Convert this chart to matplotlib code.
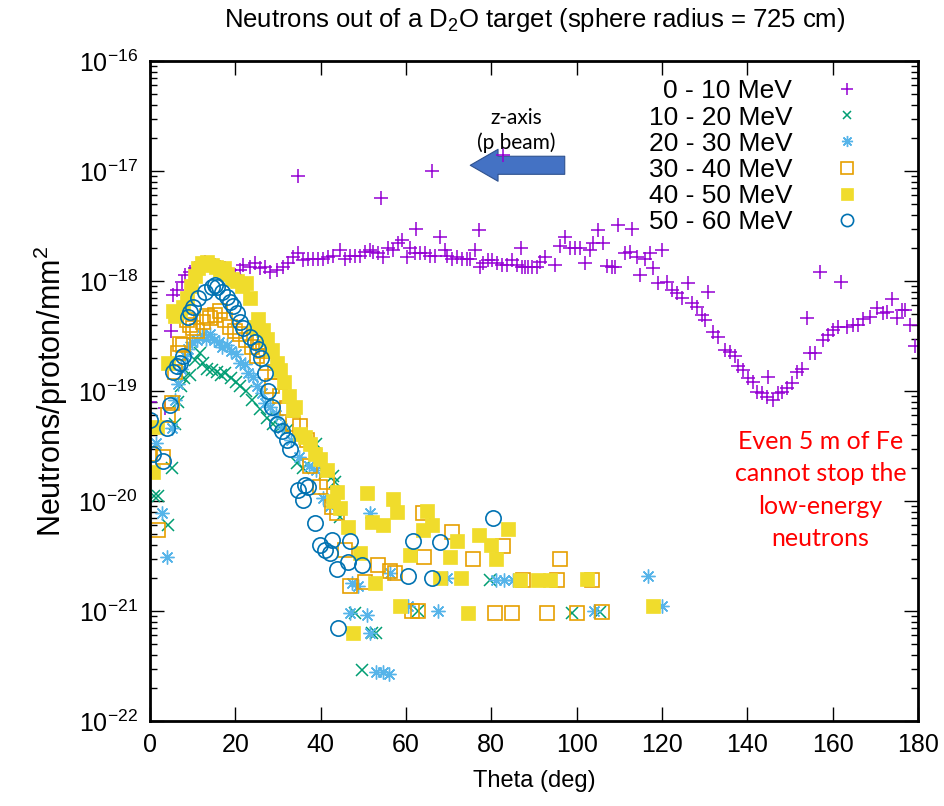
import matplotlib
matplotlib.use("Agg")
import matplotlib.pyplot as plt
from matplotlib.patches import FancyArrowPatch
from matplotlib.ticker import FixedLocator, NullFormatter
import numpy as np

plt.rcParams['font.family'] = ['Liberation Sans', 'DejaVu Sans']
plt.rcParams['mathtext.fontset'] = 'custom'
plt.rcParams['mathtext.rm'] = 'Liberation Sans'
plt.rcParams['mathtext.it'] = 'Liberation Sans:italic'

# ---- data (theta in deg, neutrons/proton/mm^2) ----
th_0_10 = [0.0, 3.5, 5.0, 5.4, 6.3, 7.5, 8.2, 9.4, 10.5, 11.7, 12.9, 14.0, 15.2, 16.4, 17.6, 18.8,
           19.9, 21.1, 21.8, 23.4, 24.6, 25.8, 27.0, 28.1, 29.8, 31.2, 32.3, 33.5, 34.7, 34.7, 35.9,
           37.0, 38.2, 39.4, 40.5, 41.7, 42.9, 44.5, 45.7, 46.9, 48.0, 49.2, 50.4, 51.6, 52.3, 53.4,
           54.1, 54.6, 55.8, 57.0, 58.1, 59.1, 60.2, 60.9, 62.1, 62.3, 63.3, 64.4, 65.6, 66.1, 66.8,
           68.0, 69.1, 69.6, 70.8, 71.9, 73.1, 74.3, 75.0, 76.2, 77.0, 77.3, 78.0, 79.2, 80.1, 81.3,
           82.5, 82.7, 83.7, 84.8, 86.0, 87.0, 87.2, 87.9, 88.6, 89.5, 90.7, 91.4, 92.6, 94.9, 96.1,
           97.3, 98.4, 99.6, 100.8, 101.9, 103.1, 103.8, 105.0, 106.2, 107.1, 108.3, 109.0, 109.7,
           111.3, 112.5, 113.0, 114.1, 114.8, 116.0, 117.2, 117.9, 119.1, 120.0, 121.2, 122.3, 123.5,
           124.7, 126.1, 127.0, 128.2, 129.4, 130.1, 130.8, 131.9, 133.1, 134.8, 135.9, 137.1, 137.8,
           139.0, 140.1, 141.3, 142.3, 143.4, 144.6, 144.8, 146.0, 147.2, 148.1, 149.3, 150.5, 151.6,
           152.8, 154.0, 154.7, 155.8, 157.0, 157.7, 158.9, 160.1, 161.2, 161.9, 163.3, 164.8, 165.9,
           167.1, 168.7, 170.4, 171.8, 172.7, 173.9, 175.1, 176.2, 176.9, 178.1, 179.3]
n_0_10 = [8e-20, 7e-20, 3.5e-19, 7.5e-19, 8.3e-19, 9.8e-19, 1.13e-18, 1.2e-18, 1.3e-18, 1.4e-18,
          1.5e-18, 1.45e-18, 1.4e-18, 1.35e-18, 1.3e-18, 1.25e-18, 1.13e-18, 1.25e-18, 1.4e-18,
          1.34e-18, 1.45e-18, 1.3e-18, 1.34e-18, 1.2e-18, 1.26e-18, 1.34e-18, 1.45e-18, 1.65e-18,
          1.8e-18, 9e-18, 1.55e-18, 1.6e-18, 1.6e-18, 1.6e-18, 1.6e-18, 1.65e-18, 1.7e-18, 1.9e-18,
          1.6e-18, 1.7e-18, 1.7e-18, 1.7e-18, 1.85e-18, 1.9e-18, 1.85e-18, 1.8e-18, 5.7e-18, 1.65e-18,
          2.0e-18, 1.9e-18, 2.2e-18, 2.35e-18, 1.65e-18, 2.0e-18, 1.8e-18, 3.0e-18, 1.8e-18, 1.8e-18,
          1.7e-18, 1.0e-17, 1.7e-18, 2.5e-18, 1.9e-18, 1.7e-18, 1.6e-18, 1.65e-18, 1.6e-18, 1.6e-18,
          1.6e-18, 1.9e-18, 2.9e-18, 1.35e-18, 1.45e-18, 1.55e-18, 1.55e-18, 1.45e-18, 1.4e-18,
          1.4e-17, 1.4e-18, 1.55e-18, 1.4e-18, 2.0e-18, 1.35e-18, 1.35e-18, 1.35e-18, 1.33e-18,
          1.33e-18, 1.5e-18, 1.65e-18, 1.4e-18, 2.1e-18, 2.5e-18, 2.0e-18, 2.0e-18, 2.0e-18, 1.45e-18,
          1.9e-18, 2.2e-18, 2.9e-18, 2.2e-18, 1.37e-18, 1.34e-18, 1.34e-18, 3.2e-18, 1.8e-18,
          1.83e-18, 3.0e-18, 1.65e-18, 1.13e-18, 1.6e-18, 1.8e-18, 1.3e-18, 9.6e-19, 1.9e-18,
          9.8e-19, 8.3e-19, 7.8e-19, 7.0e-19, 9.6e-19, 6.3e-19, 5.8e-19, 4.9e-19, 4.4e-19, 7.9e-19,
          3.44e-19, 3.1e-19, 2.36e-19, 2.25e-19, 2.1e-19, 1.7e-19, 1.55e-19, 1.3e-19, 1.2e-19,
          9.8e-20, 9.6e-20, 8.8e-20, 1.34e-19, 8.3e-20, 9.6e-20, 9.8e-20, 1.06e-19, 1.17e-19,
          1.49e-19, 1.6e-19, 4.6e-19, 2.2e-19, 2.2e-19, 1.2e-18, 2.9e-19, 3.2e-19, 3.6e-19, 3.8e-19,
          9.8e-19, 3.8e-19, 3.96e-19, 3.96e-19, 4.5e-19, 4.7e-19, 5.7e-19, 5.1e-19, 5.2e-19, 6.9e-19,
          4.6e-19, 5.4e-19, 5.4e-19, 3.96e-19, 2.55e-19]

th_10_20 = [1.0, 1.9, 4.2, 5.2, 5.9, 6.5, 7.2, 8.0, 9.4, 10.5, 11.7, 12.4, 13.4, 14.5, 15.7, 16.6,
            17.6, 19.0, 20.2, 21.0, 22.5, 24.0, 25.7, 27.4, 28.8, 30.5, 32.0, 34.4, 35.9, 39.0, 41.0,
            42.9, 43.4, 44.5, 48.0, 49.7, 52.0, 53.0, 62.8, 79.7, 98.9, 105.5]
n_10_20 = [1.1e-20, 1.1e-20, 6e-21, 2e-20, 5e-20, 8e-20, 1.1e-19, 1.3e-19, 1.4e-19, 1.9e-19,
           2.2e-19, 1.8e-19, 1.6e-19, 1.55e-19, 1.5e-19, 1.4e-19, 1.46e-19, 1.3e-19, 1.2e-19,
           1.1e-19, 1.0e-19, 8.3e-20, 6.8e-20, 5.7e-20, 5.0e-20, 4.7e-20, 4.4e-20, 2.2e-20, 2.0e-20,
           3.3e-20, 1.8e-20, 1.7e-20, 1.5e-20, 7.1e-21, 9.6e-22, 2.9e-22, 6.3e-22, 6.3e-22, 1.0e-21,
           1.9e-21, 9.6e-22, 9.8e-22]

th_20_30 = [1.5, 2.8, 4.0, 5.2, 5.9, 6.5, 7.2, 8.1, 9.0, 9.8, 11.0, 12.1, 13.2, 14.0, 15.1, 16.2,
            16.9, 18.1, 19.0, 20.2, 21.1, 22.3, 23.0, 24.2, 25.1, 26.3, 27.0, 28.2, 29.5, 31.0,
            33.1, 35.0, 37.2, 39.0, 40.5, 42.1, 46.9, 47.3, 48.7, 50.9, 51.6, 51.6, 53.0, 54.5,
            56.0, 56.2, 60.5, 67.5, 69.6, 81.0, 83.0, 85.0, 104.0, 116.7, 120.0]
n_20_30 = [3.4e-20, 7.8e-21, 3.1e-21, 4.6e-20, 8.2e-20, 1.15e-19, 1.6e-19, 2.1e-19, 2.4e-19,
           2.8e-19, 2.9e-19, 3.2e-19, 3.0e-19, 3.3e-19, 2.9e-19, 2.8e-19, 2.5e-19, 2.6e-19, 2.3e-19,
           2.15e-19, 1.8e-19, 1.75e-19, 1.45e-19, 1.35e-19, 1.1e-19, 9.5e-20, 7.8e-20, 7.2e-20,
           6.0e-20, 4.6e-20, 3.6e-20, 2.5e-20, 2.1e-20, 1.9e-20, 1.07e-20, 9e-21, 9.6e-22, 1.8e-21,
           1.7e-21, 9.2e-22, 7.8e-21, 6.3e-22, 2.8e-22, 2.8e-22, 2.7e-22, 2.2e-21, 1.1e-21, 1e-21,
           2e-21, 1.9e-21, 1.9e-21, 1.9e-21, 1e-21, 2.1e-21, 1.1e-21]

th_30_40 = [0.0, 1.9, 3.0, 4.2, 5.2, 5.9, 6.5, 7.0, 7.7, 8.7, 9.4, 10.0, 11.0, 12.4, 13.4, 14.0,
            15.2, 16.4, 17.6, 18.8, 20.0, 21.0, 22.5, 24.0, 25.0, 25.3, 26.4, 27.4, 28.6, 29.3,
            30.5, 32.0, 33.5, 35.2, 36.8, 37.5, 39.8, 41.5, 42.7, 43.8, 45.7, 46.9, 50.4, 53.4,
            56.2, 57.5, 61.4, 62.8, 64.0, 64.2, 70.8, 75.7, 80.9, 82.8, 84.8, 87.5, 93.0, 95.4,
            96.0, 100.0, 103.5, 106.0]
n_30_40 = [2.7e-20, 5.4e-21, 2.5e-20, 6e-20, 7.8e-20, 1.5e-19, 2.2e-19, 2.7e-19, 2.6e-19, 4.4e-19,
           4.0e-19, 3.7e-19, 3.5e-19, 4.2e-19, 4.8e-19, 4.6e-19, 4.9e-19, 5.3e-19, 4.4e-19, 3.8e-19,
           3.5e-19, 3.3e-19, 2.9e-19, 2.5e-19, 2.1e-19, 2.8e-19, 2.3e-19, 1.8e-19, 1.1e-19, 1.5e-19,
           9e-20, 7e-20, 5e-20, 4.8e-20, 3.6e-20, 2.1e-20, 1.35e-20, 1.5e-20, 8.8e-21, 7.8e-21,
           3.6e-21, 1.7e-21, 1.85e-21, 2.6e-21, 2.3e-21, 2.2e-21, 1.0e-21, 1.0e-21, 7.8e-21, 3.1e-21,
           5.2e-21, 3e-21, 9.6e-22, 3.9e-21, 9.6e-22, 1.9e-21, 9.6e-22, 1.9e-21, 3e-21, 9.6e-22,
           1.9e-21, 9.8e-22]

th_40_50 = [0.7, 1.6, 4.2, 5.4, 5.9, 7.0, 7.7, 8.7, 9.6, 10.5, 11.3, 12.2, 13.4, 14.5, 15.5, 16.4,
            17.3, 18.0, 19.2, 20.4, 21.5, 22.4, 23.4, 24.6, 25.4, 26.5, 27.5, 28.6, 29.8, 30.5,
            31.5, 32.5, 33.5, 34.0, 35.2, 36.3, 37.5, 38.7, 39.8, 41.5, 42.9, 43.8, 44.5, 46.4,
            47.6, 49.2, 50.9, 52.0, 52.7, 54.6, 57.0, 57.9, 58.6, 61.0, 64.0, 65.0, 66.0, 68.0,
            70.3, 72.0, 73.0, 74.5, 77.0, 80.0, 81.0, 84.0, 86.7, 91.0, 93.7, 102.4, 117.9]
n_40_50 = [1.84e-20, 4.7e-20, 1.8e-19, 5.3e-19, 4.8e-19, 5.2e-19, 5.8e-19, 7e-19, 9e-19, 1.1e-18,
           1.3e-18, 1.45e-18, 1.5e-18, 1.4e-18, 1.35e-18, 1.25e-18, 1.3e-18, 1.15e-18, 1.05e-18,
           1.0e-18, 9e-19, 9.6e-19, 7e-19, 3.8e-19, 4.5e-19, 3.6e-19, 3e-19, 2.36e-19, 1.8e-19,
           1.55e-19, 1.2e-19, 9e-20, 6.7e-20, 7.2e-20, 4.1e-20, 3.8e-20, 3.3e-20, 2.7e-20, 2.4e-20,
           1.9e-20, 1.0e-20, 1.2e-20, 8.6e-21, 5.8e-21, 6.3e-22, 3.4e-21, 1.18e-20, 6.4e-21, 1.8e-21,
           6e-21, 1.04e-20, 7.9e-21, 1.1e-21, 3.2e-21, 5.4e-21, 8.1e-21, 6e-21, 2e-21, 3.1e-21,
           4.3e-21, 2e-21, 9.6e-22, 4.9e-21, 4e-21, 3e-21, 5.6e-21, 1.9e-21, 1.9e-21, 1.9e-21,
           1.95e-21, 1.1e-21]

th_50_60 = [0.0, 0.7, 3.0, 4.0, 4.7, 5.4, 6.3, 7.0, 7.7, 8.9, 9.4, 10.0, 11.3, 12.9, 14.5, 15.2,
            15.7, 16.9, 18.0, 18.8, 19.5, 20.4, 21.0, 21.8, 23.4, 24.6, 25.3, 26.0, 27.0, 27.7,
            28.6, 29.8, 31.0, 32.0, 32.8, 34.7, 35.9, 36.3, 37.0, 38.7, 39.8, 41.0, 42.1, 42.7,
            43.8, 44.1, 46.3, 46.9, 49.7, 60.5, 61.6, 66.0, 68.0, 80.5]
n_50_60 = [5.4e-20, 2.7e-20, 2.3e-20, 4.6e-20, 7.4e-20, 1.5e-19, 1.7e-19, 1.8e-19, 2.1e-19, 4.7e-19,
           5.2e-19, 5.8e-19, 7e-19, 7.9e-19, 8.8e-19, 9.2e-19, 8.8e-19, 7.9e-19, 7.1e-19, 6.5e-19,
           5.9e-19, 5.1e-19, 4.2e-19, 3.7e-19, 3.1e-19, 2.8e-19, 2.4e-19, 2e-19, 1.46e-19, 1.0e-19,
           7.2e-20, 5e-20, 4.3e-20, 3.6e-20, 3.0e-20, 1.26e-20, 1.02e-20, 1.4e-20, 1.34e-20, 6.3e-21,
           4e-21, 3.6e-21, 3.4e-21, 4.4e-21, 2.4e-21, 7e-22, 2.8e-21, 4.3e-21, 2.6e-21, 2.1e-21,
           4.3e-21, 2e-21, 4.2e-21, 7e-21]

labels = ['0 - 10 MeV', '10 - 20 MeV', '20 - 30 MeV', '30 - 40 MeV', '40 - 50 MeV', '50 - 60 MeV']

fig = plt.figure(figsize=(9.44, 8.06), dpi=100)
ax = fig.add_axes([150 / 944, 85 / 806, 768 / 944, 660 / 806])

asterisk = (8, 2, 0)
ax.plot(th_0_10, n_0_10, ls='none', marker='+', ms=10.5, mew=1.1, color='#9400d3', label=labels[0])
ax.plot(th_10_20, n_10_20, ls='none', marker='x', ms=8, mew=1.1, color='#009e73', label=labels[1])
ax.plot(th_20_30, n_20_30, ls='none', marker=asterisk, ms=10, mew=1.0, color='#56b4e9', label=labels[2])
ax.plot(th_30_40, n_30_40, ls='none', marker='s', ms=10, mew=1.2, mfc='none', color='#e69f00', label=labels[3])
ax.plot(th_40_50, n_40_50, ls='none', marker='s', ms=10, mew=0.5, color='#f0dc2c', label=labels[4])
ax.plot(th_50_60, n_50_60, ls='none', marker='o', ms=11, mew=1.2, mfc='none', color='#0072b2', label=labels[5])

ax.set_yscale('log')
ax.set_xlim(0, 180)
ax.set_ylim(1e-22, 1e-16)
ax.set_xticks(range(0, 181, 20))
decades = range(-22, -15)
ax.yaxis.set_major_locator(FixedLocator([10.0 ** d for d in decades]))
ax.yaxis.set_minor_locator(FixedLocator([m * 10.0 ** d for d in decades[:-1] for m in range(2, 10)]))
ax.yaxis.set_minor_formatter(NullFormatter())
ax.tick_params(which='both', direction='in', top=True, right=True, labelsize=18, width=1)
ax.tick_params(which='major', length=10, pad=9)
ax.tick_params(which='minor', length=5)
for s in ax.spines.values():
    s.set_linewidth(2)

ax.set_xlabel('Theta (deg)', fontsize=17, labelpad=9)
ax.set_ylabel('Neutrons/proton/mm$^2$', fontsize=22, labelpad=6)
fig.text(0.566, 0.975, 'Neutrons out of a D$_2$O target (sphere radius = 725 cm)',
         ha='center', va='center', fontsize=18.5)

ax.legend(loc='upper right', bbox_to_anchor=(0.925, 0.972), markerfirst=False, frameon=False,
          fontsize=19, handlelength=1.0, handletextpad=1.58, labelspacing=0.08,
          borderpad=0, borderaxespad=0, markerscale=0.8)

arrow = FancyArrowPatch((0.540, 0.842), (0.417, 0.842), transform=ax.transAxes,
                        arrowstyle='simple,head_length=1.0,head_width=1.15,tail_width=0.65',
                        mutation_scale=20, fc='#4472c4', ec='#2f528f', lw=0.8,
                        shrinkA=0, shrinkB=0)
ax.add_patch(arrow)
ax.text(0.477, 0.895, 'z-axis\n(p beam)', transform=ax.transAxes, ha='center', va='center',
        fontsize=15, family='Lato', linespacing=1.3)
ax.text(0.873, 0.35, 'Even 5 m of Fe\ncannot stop the\nlow-energy\nneutrons', transform=ax.transAxes,
        ha='center', va='center', fontsize=18, family='Lato', color='red', linespacing=1.5)

fig.savefig('out.png', dpi=100)
